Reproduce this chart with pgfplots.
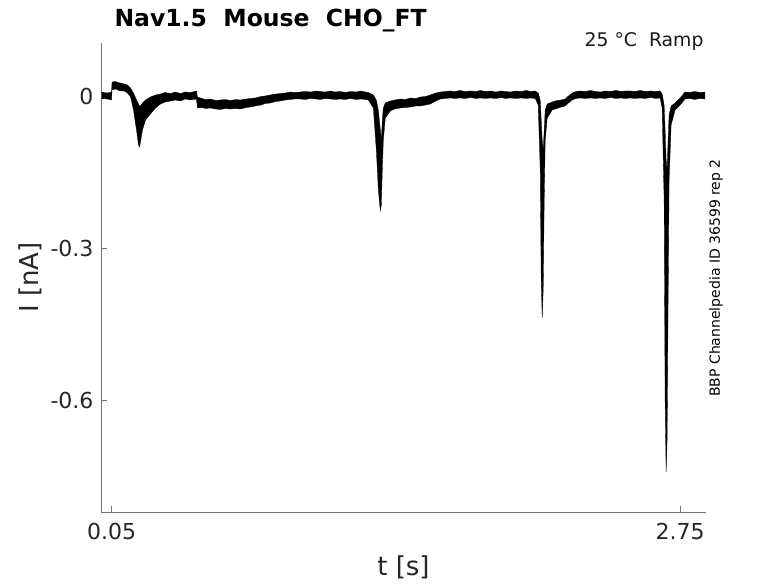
\documentclass[border=0pt]{standalone}
\usepackage{fontspec}
\setmainfont{DejaVu Sans}
\usepackage{pgfplots}
\pgfplotsset{compat=1.18}
\usepackage{pgfplotstable}
\usepgfplotslibrary{fillbetween}

\pgfplotstableread{
t hi lo
0.0025 0.0079 -0.0059
0.0150 0.0069 -0.0049
0.0300 0.0059 -0.0059
0.0500 0.0079 -0.0079
0.0524 0.0276 0.0118
0.0700 0.0286 0.0138
0.0800 0.0266 0.0118
0.0927 0.0257 0.0099
0.1100 0.0237 0.0099
0.1259 0.0217 0.0059
0.1402 0.0158 -0.0020
0.1544 0.0059 -0.0276
0.1686 -0.0079 -0.0671
0.1781 -0.0158 -0.0967
0.1829 -0.0197 -0.1007
0.1876 -0.0197 -0.0908
0.1971 -0.0138 -0.0671
0.2113 -0.0079 -0.0474
0.2351 -0.0020 -0.0355
0.2588 0.0020 -0.0237
0.2825 0.0039 -0.0158
0.3050 0.0069 -0.0118
0.3300 0.0049 -0.0099
0.3520 0.0079 -0.0079
0.3774 0.0049 -0.0099
0.4000 0.0079 -0.0059
0.4249 0.0069 -0.0079
0.4533 0.0099 -0.0059
0.4581 -0.0020 -0.0237
0.4800 -0.0049 -0.0227
0.4961 -0.0069 -0.0247
0.5200 -0.0059 -0.0237
0.5450 -0.0089 -0.0257
0.5672 -0.0079 -0.0267
0.5900 -0.0069 -0.0247
0.6150 -0.0089 -0.0257
0.6400 -0.0069 -0.0247
0.6621 -0.0079 -0.0257
0.6900 -0.0059 -0.0227
0.7100 -0.0049 -0.0217
0.7333 -0.0039 -0.0197
0.7600 -0.0010 -0.0178
0.7800 0.0000 -0.0148
0.8045 0.0020 -0.0138
0.8300 0.0039 -0.0108
0.8500 0.0049 -0.0099
0.8757 0.0059 -0.0079
0.9000 0.0079 -0.0069
0.9200 0.0069 -0.0059
0.9468 0.0079 -0.0059
0.9700 0.0089 -0.0069
0.9950 0.0079 -0.0049
1.0200 0.0099 -0.0059
1.0417 0.0089 -0.0069
1.0650 0.0079 -0.0049
1.0900 0.0099 -0.0059
1.1100 0.0079 -0.0069
1.1367 0.0089 -0.0059
1.1600 0.0069 -0.0069
1.1850 0.0089 -0.0049
1.2100 0.0079 -0.0069
1.2350 0.0099 -0.0059
1.2550 0.0079 -0.0069
1.2695 0.0069 -0.0079
1.2932 0.0020 -0.0237
1.3075 -0.0079 -0.1066
1.3170 -0.0276 -0.1855
1.3265 -0.0671 -0.2270
1.3312 -0.0868 -0.2151
1.3359 -0.0474 -0.1460
1.3407 -0.0237 -0.0868
1.3502 -0.0138 -0.0434
1.3739 -0.0099 -0.0296
1.3950 -0.0079 -0.0257
1.4213 -0.0059 -0.0237
1.4450 -0.0069 -0.0227
1.4700 -0.0039 -0.0217
1.4950 -0.0049 -0.0197
1.5163 -0.0020 -0.0197
1.5400 -0.0010 -0.0178
1.5637 0.0020 -0.0158
1.5900 0.0059 -0.0099
1.6112 0.0079 -0.0059
1.6350 0.0089 -0.0049
1.6586 0.0099 -0.0039
1.6800 0.0089 -0.0049
1.7050 0.0109 -0.0039
1.7300 0.0089 -0.0049
1.7550 0.0099 -0.0029
1.7800 0.0089 -0.0049
1.8010 0.0109 -0.0039
1.8250 0.0089 -0.0049
1.8500 0.0099 -0.0039
1.8750 0.0079 -0.0049
1.9000 0.0099 -0.0029
1.9200 0.0089 -0.0049
1.9433 0.0079 -0.0039
1.9700 0.0099 -0.0049
1.9950 0.0089 -0.0039
2.0200 0.0109 -0.0049
2.0400 0.0089 -0.0039
2.0620 0.0099 -0.0049
2.0762 0.0059 -0.0178
2.0857 -0.0079 -0.1460
2.0904 -0.0474 -0.3631
2.0952 -0.0868 -0.4381
2.0999 -0.1066 -0.3829
2.1047 -0.0671 -0.2052
2.1094 -0.0276 -0.0868
2.1189 -0.0158 -0.0434
2.1426 -0.0118 -0.0276
2.1650 -0.0089 -0.0247
2.1850 -0.0079 -0.0217
2.2043 -0.0059 -0.0197
2.2200 0.0000 -0.0138
2.2375 0.0059 -0.0079
2.2550 0.0089 -0.0049
2.2755 0.0099 -0.0039
2.3000 0.0089 -0.0049
2.3250 0.0109 -0.0039
2.3500 0.0089 -0.0049
2.3704 0.0079 -0.0039
2.3950 0.0099 -0.0049
2.4200 0.0089 -0.0029
2.4450 0.0109 -0.0049
2.4700 0.0089 -0.0039
2.4900 0.0099 -0.0049
2.5127 0.0099 -0.0039
2.5350 0.0089 -0.0049
2.5600 0.0109 -0.0039
2.5850 0.0089 -0.0049
2.6100 0.0099 -0.0029
2.6350 0.0089 -0.0049
2.6551 0.0099 -0.0039
2.6646 0.0039 -0.0237
2.6741 -0.0178 -0.2052
2.6788 -0.0671 -0.6000
2.6836 -0.1263 -0.7421
2.6883 -0.1460 -0.6789
2.6931 -0.0868 -0.4026
2.6978 -0.0375 -0.1658
2.7073 -0.0197 -0.0572
2.7263 -0.0138 -0.0276
2.7500 -0.0039 -0.0178
2.7737 0.0079 -0.0059
2.7950 0.0069 -0.0049
2.8200 0.0089 -0.0069
2.8450 0.0069 -0.0049
2.8686 0.0079 -0.0059
}\trace

\begin{document}
\begin{tikzpicture}
\path (-101pt,-71pt) rectangle (677pt,512pt);
\begin{axis}[
  at={(0,0)}, anchor=south west,
  scale only axis, width=605pt, height=469pt,
  xmin=0, xmax=2.873, ymin=-0.821, ymax=0.1046,
  axis x line*=bottom, axis y line*=left,
  axis line style={black!55, line width=0.6pt},
  tick style={black!55, line width=0.6pt},
  tick align=inside, major tick length=6pt,
  xtick={0.05,2.75}, xticklabels={0.05,2.75},
  ytick={-0.6,-0.3,0}, yticklabels={-0.6,-0.3,0},
  ticklabel style={font=\fontsize{22}{26}\selectfont, text=black!85},
  xticklabel style={yshift=-8pt},
  yticklabel style={xshift=-4pt},
  xlabel={t [s]}, ylabel={I [nA]},
  label style={font=\fontsize{26}{30}\selectfont, text=black!85},
  xlabel style={at={(axis description cs:0.5,-0.1173)}, anchor=center},
  ylabel style={at={(axis description cs:-0.1174,0.5)}, anchor=center},
]
\addplot[name path=hi, draw=black, line width=0.3pt] table[x=t,y=hi]{\trace};
\addplot[name path=lo, draw=black, line width=0.3pt] table[x=t,y=lo]{\trace};
\addplot[black] fill between[of=hi and lo];
\end{axis}
\node[anchor=base west, font=\fontsize{23.5}{27}\selectfont\bfseries] at (10pt,485pt) {Nav1.5\ \ Mouse\ \ CHO\_FT};
\node[anchor=base east, font=\fontsize{18.8}{22}\selectfont, text=black!90] at (606pt,465pt) {25 °C\ \ Ramp};
\node[anchor=center, rotate=90, font=\fontsize{14}{17}\selectfont] at (615pt,234pt) {BBP Channelpedia ID 36599 rep 2};
\end{tikzpicture}
\end{document}
